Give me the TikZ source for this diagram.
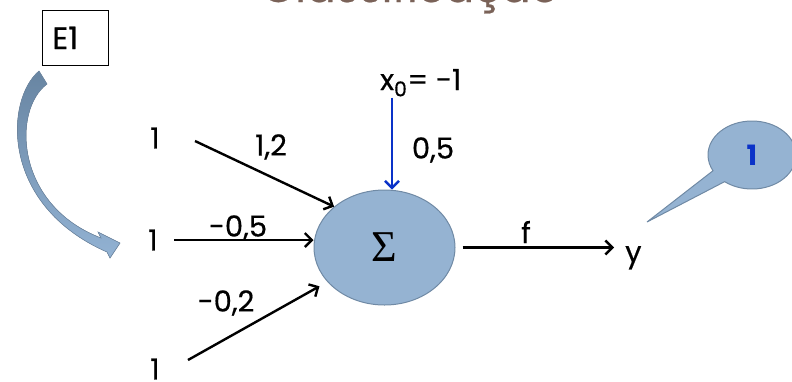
\documentclass[tikz,border=0pt]{standalone}
\usepackage{fontspec}
\setmainfont{Poppins}[UprightFeatures={FakeBold=0.5}]
\newfontfamily\sigmafont{Liberation Serif}
\usetikzlibrary{arrows.meta,positioning,shapes.geometric,shapes.callouts}

\definecolor{sumfill}{RGB}{149,179,210}
\definecolor{sumline}{RGB}{112,138,165}
\definecolor{titlebrown}{RGB}{122,98,88}
\definecolor{biasblue}{RGB}{10,50,200}
\definecolor{curvetop}{RGB}{104,133,162}
\definecolor{curvebot}{RGB}{146,178,211}

\begin{document}
\begin{tikzpicture}[x=1pt, y=-1pt, >={Straight Barb[length=7pt,width=14pt]},
    lbl/.style={font=\fontsize{29}{33}\selectfont, inner sep=1pt},
    wire/.style={->, line width=2.4pt}]
  \useasboundingbox (0,0) rectangle (792,381);
  % title, cut off at the top edge
  \begin{scope}
    \clip (0,0) rectangle (792,381);
    \node[anchor=base, text=titlebrown, font=\fontsize{44}{50}\selectfont] (title) at (410,2) {Classificação};
  \end{scope}

  % example box and its curved arrow
  \node[draw, line width=0.8pt, anchor=north west, font=\fontsize{31}{34}\selectfont,
        text width=46pt, inner xsep=10pt, minimum height=55pt, align=left] (eone) at (42,10) {E1};
  \fill[top color=curvetop, bottom color=curvebot, draw=sumline, line width=0.6pt]
    (39,71) .. controls (5,100) and (0,205) .. (107,252)
    -- (110,258) -- (120,243) -- (98,232) -- (101,238)
    .. controls (15,205) and (12,110) .. (47,84) -- cycle;

  % inputs
  \node[lbl] (in1) at (155,138) {1};
  \node[lbl] (in2) at (153,240) {1};
  \node[lbl] (in3) at (155,369) {1};

  % neuron
  \node[ellipse, draw=sumline, fill=sumfill, line width=1pt, minimum width=141pt,
        minimum height=115pt, inner sep=0pt] (sum) at (384.5,247.5) {\sigmafont\fontsize{44}{48}\selectfont Σ};
  \node[lbl, anchor=base west] (x0) at (379,90) {x\textsubscript{0}= -1};
  \node[lbl, anchor=base west] (yout) at (624,262) {y};

  % weights
  \node[lbl] (w1) at (271,147) {1,2};
  \node[lbl] (w2) at (238,228) {-0,5};
  \node[lbl] (w3) at (226,303) {-0,2};
  \node[lbl] (w0) at (433,150) {0,5};
  \node[lbl] (fn) at (526,232) {f};

  \draw[wire] ([shift={(40,3)}]in1.center) -- (sum.141);
  \draw[wire] ([xshift=21pt]in2.center) -- (sum.west |- in2.center);
  \draw[wire, shorten >=9pt] ([shift={(33,-9)}]in3.center) -- (sum.211);
  \draw[wire, biasblue] ([xshift=13pt]x0.south west) -- ([xshift=13pt]x0.south west |- sum.north);
  \draw[wire, shorten <=7pt, shorten >=10pt] (sum.east) -- (sum.east -| yout.west);

  % callout
  \coordinate (ptip) at (647,222);
  \node[ellipse callout, draw=sumline, fill=sumfill, line width=1pt, minimum width=88pt,
        minimum height=68pt, callout absolute pointer={(ptip)}, callout pointer arc=24,
        text=biasblue, font=\bfseries\fontsize{28}{32}\selectfont] (bubble) at (752,155) {1};
\end{tikzpicture}
\end{document}
